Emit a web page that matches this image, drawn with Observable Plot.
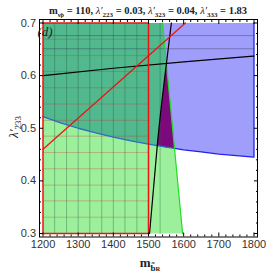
<!DOCTYPE html>
<html><head><meta charset="utf-8">
<script src="https://cdn.jsdelivr.net/npm/d3@7"></script>
<script src="https://cdn.jsdelivr.net/npm/@observablehq/plot@0.6"></script>
<style>body{margin:0;background:#fff}</style>
</head><body><div id="chart"></div>
<script>
// ---- data ----
const xMajor = [1200, 1300, 1400, 1500, 1600, 1700, 1800];
const yMajor = [0.3, 0.4, 0.5, 0.6, 0.7];
const xMinor = [1220,1240,1260,1280,1320,1340,1360,1380,1420,1440,1460,1480,1520,1540,1560,1580,1620,1640,1660,1680,1720,1740,1760,1780];
const yMinor = [0.32,0.34,0.36,0.38,0.42,0.44,0.46,0.48,0.52,0.54,0.56,0.58,0.62,0.64,0.66,0.68];

// blue boundary (region above it is blue)
const blueX = [1200, 1250, 1300, 1350, 1400, 1450, 1500, 1550, 1600, 1650, 1700, 1750, 1800];
const blueY = [0.522, 0.510, 0.500, 0.491, 0.483, 0.476, 0.470, 0.464, 0.459, 0.455, 0.451, 0.448, 0.445];
// green region right edge
const greenEdgeX = [1597, 1540];
const greenEdgeY = [0.3, 0.7];
// black curves
const blackHX = [1200, 1400, 1600, 1800];
const blackHY = [0.600, 0.614, 0.626, 0.637];
const blackVX = [1503, 1526, 1545, 1565];
const blackVY = [0.30, 0.475, 0.59, 0.70];
// red region (rectangle) and red line
const redRectX = [1200, 1500];
const redRectY = [0.3, 0.7];
const redLineX = [1200, 1605];
const redLineY = [0.46, 0.70];
// mesh lines
const greenMeshX = [1233, 1267, 1300, 1333, 1367, 1400, 1433, 1467, 1500, 1533];
const redMeshY = [0.331, 0.362, 0.392, 0.423, 0.454, 0.485, 0.515, 0.546, 0.577, 0.608, 0.638, 0.669];
const blueMeshY = [0.676, 0.651];

const X0 = 1200, X1 = 1800, Y0 = 0.3, Y1 = 0.7;

// ---- geometry helpers ----
const pts = (xs, ys) => xs.map((x, i) => ({x, y: ys[i]}));
const blue = pts(blueX, blueY);
const green = pts(greenEdgeX, greenEdgeY);
const blackH = pts(blackHX, blackHY);
const blackV = pts(blackVX, blackVY);
function segX(a, b, c, d) {
  const den = (b.x - a.x) * (d.y - c.y) - (b.y - a.y) * (d.x - c.x);
  if (den === 0) return null;
  const t = ((c.x - a.x) * (d.y - c.y) - (c.y - a.y) * (d.x - c.x)) / den;
  const u = ((c.x - a.x) * (b.y - a.y) - (c.y - a.y) * (b.x - a.x)) / den;
  if (t < 0 || t > 1 || u < 0 || u > 1) return null;
  return {x: a.x + t * (b.x - a.x), y: a.y + t * (b.y - a.y), i: 0, j: 0};
}
function inter(P, Q) {
  for (let i = 0; i < P.length - 1; i++)
    for (let j = 0; j < Q.length - 1; j++) {
      const r = segX(P[i], P[i + 1], Q[j], Q[j + 1]);
      if (r) { r.i = i; r.j = j; return r; }
    }
  return null;
}
const pBG = inter(blue, green);     // blue curve meets green edge
const pVB = inter(blackV, blue);    // black vertical meets blue curve
const pVG = inter(blackV, green);   // black vertical meets green edge

const greenPoly = [{x: X0, y: Y0}, green[0], green[1], {x: X0, y: Y1}];
const bluePoly = [...blue, {x: X1, y: Y1}, {x: X0, y: Y1}];
const tealPoly = [...blue.slice(0, pBG.i + 1), pBG, green[1], {x: X0, y: Y1}];
const purplePoly = [pVB, ...blue.filter(p => p.x > pVB.x && p.x < pBG.x), pBG, pVG,
  ...blackV.filter(p => p.y < pVG.y && p.y > pVB.y).reverse()];
const blueLeft = [...blue.slice(0, pBG.i + 1), pBG];
const blueRight = [pBG, ...blue.slice(pBG.i + 1)];

const vMesh = greenMeshX.flatMap((x, k) => [{x, y: Y0, k}, {x, y: Y1, k}]);
const rMesh = redMeshY.flatMap((y, k) => [{x: redRectX[0], y, k}, {x: redRectX[1], y, k}]);
const bMesh = blueMeshY.flatMap((y, k) => [{x: X0, y, k}, {x: X1, y, k}]);
const redRect = [{x: redRectX[0], y: redRectY[0]}, {x: redRectX[1], y: redRectY[0]},
  {x: redRectX[1], y: redRectY[1]}, {x: redRectX[0], y: redRectY[1]}, {x: redRectX[0], y: redRectY[0]}];

const fnt = "Liberation Sans, Arial, sans-serif";
const axOpts = {fontSize: 11, fill: "#333"};

const plot = Plot.plot({
  width: 266, height: 276,
  marginTop: 19, marginLeft: 39, marginRight: 9, marginBottom: 39.5,
  x: {domain: [1190, 1810], label: null},
  y: {domain: [0.2934, 0.7066], label: null},
  style: {fontFamily: fnt, background: "white"},
  marks: [
    Plot.line(greenPoly, {x: "x", y: "y", fill: "#9cf09c", stroke: "none"}),
    Plot.line(bluePoly, {x: "x", y: "y", fill: "#9f9ffb", stroke: "none"}),
    Plot.line(tealPoly, {x: "x", y: "y", fill: "#52b98e", stroke: "none"}),
    Plot.line(purplePoly, {x: "x", y: "y", fill: "#7d0a7d", stroke: "none"}),
    Plot.line(vMesh, {x: "x", y: "y", z: "k", stroke: "#1e5a32", strokeOpacity: 0.45, strokeWidth: 0.8}),
    Plot.line(bMesh, {x: "x", y: "y", z: "k", stroke: "#303060", strokeOpacity: 0.5, strokeWidth: 0.8}),
    Plot.line(rMesh, {x: "x", y: "y", z: "k", stroke: "#d03030", strokeOpacity: 0.4, strokeWidth: 0.8}),
    Plot.line(blueLeft, {x: "x", y: "y", stroke: "#2a6fbf", strokeWidth: 1.3}),
    Plot.line(blueRight, {x: "x", y: "y", stroke: "#2020f0", strokeWidth: 1.3}),
    Plot.ruleX([X1], {y1: blueY[blueY.length - 1], y2: Y1, stroke: "#2020f0", strokeWidth: 1.3}),
    Plot.line(green, {x: "x", y: "y", stroke: "#22dd22", strokeWidth: 1.2}),
    Plot.line(blackH, {x: "x", y: "y", stroke: "black", strokeWidth: 1.2, curve: "natural"}),
    Plot.line(blackV, {x: "x", y: "y", stroke: "black", strokeWidth: 1.2, curve: "natural"}),
    Plot.line(redRect, {x: "x", y: "y", stroke: "#ee1111", strokeWidth: 1.5}),
    Plot.line(pts(redLineX, redLineY), {x: "x", y: "y", stroke: "#ee1111", strokeWidth: 1.2}),
    Plot.frame({stroke: "black", strokeWidth: 1}),
    Plot.axisX(xMajor, {anchor: "bottom", tickSize: -4, tickPadding: 7.5, tickFormat: d => String(d), ...axOpts}),
    Plot.axisX(xMinor, {anchor: "bottom", tickSize: -2, tickFormat: () => ""}),
    Plot.axisX(xMajor, {anchor: "top", tickSize: -4, tickFormat: () => ""}),
    Plot.axisX(xMinor, {anchor: "top", tickSize: -2, tickFormat: () => ""}),
    Plot.axisY(yMajor, {anchor: "left", tickSize: -4, tickPadding: 7.5, tickFormat: d3.format(".1f"), ...axOpts}),
    Plot.axisY(yMinor, {anchor: "left", tickSize: -2, tickFormat: () => ""}),
    Plot.axisY(yMajor, {anchor: "right", tickSize: -4, tickFormat: () => ""}),
    Plot.axisY(yMinor, {anchor: "right", tickSize: -2, tickFormat: () => ""})
  ]
});
document.getElementById("chart").appendChild(plot);

const svg = d3.select(plot);
const serif = "Liberation Serif, Times New Roman, serif";

// rich text helper: segments [text, {sub, size, bold, italic}]
function rich(sel, segs, subShift) {
  let cur = 0;
  for (const [txt, o = {}] of segs) {
    const target = o.sub ? subShift : 0;
    const ts = sel.append("tspan").text(txt);
    if (target !== cur) { ts.attr("dy", target - cur); cur = target; }
    if (o.size) ts.attr("font-size", o.size);
    if (o.italic) ts.attr("font-style", "italic");
    if (o.normal) ts.attr("font-weight", "normal");
  }
}

// title
const t = svg.append("text").attr("x", 148).attr("y", 14).attr("text-anchor", "middle")
  .attr("font-family", serif).attr("font-size", 10.5).attr("font-weight", "bold").attr("fill", "#222");
rich(t, [
  ["m"], ["ν̃ρ", {sub: true, size: 6.5}], [" = 110, "],
  ["λ′", {normal: true, italic: true}], ["223", {sub: true, size: 7}], [" = 0.03, "],
  ["λ′", {normal: true, italic: true}], ["323", {sub: true, size: 7}], [" = 0.04, "],
  ["λ′", {normal: true, italic: true}], ["333", {sub: true, size: 7}], [" = 1.83"]
], 2.5);

// x label
const xl = svg.append("text").attr("x", 150).attr("y", 267).attr("text-anchor", "middle")
  .attr("font-family", serif).attr("font-size", 13).attr("font-weight", "bold").attr("fill", "#222");
rich(xl, [["m"], ["b̃", {sub: true, size: 9}], ["R", {sub: true, size: 6.5}]], 3.5);

// y label
const yl = svg.append("text").attr("transform", "translate(18,127) rotate(-90)").attr("text-anchor", "middle")
  .attr("font-family", serif).attr("font-size", 13).attr("fill", "#222");
rich(yl, [["λ′", {italic: true}], ["233", {sub: true, size: 9}]], 3);

// panel label
svg.append("text").attr("x", 45).attr("y", 36)
  .attr("font-family", serif).attr("font-size", 13).attr("font-style", "italic").attr("fill", "#222").text("(d)");
</script></body></html>
